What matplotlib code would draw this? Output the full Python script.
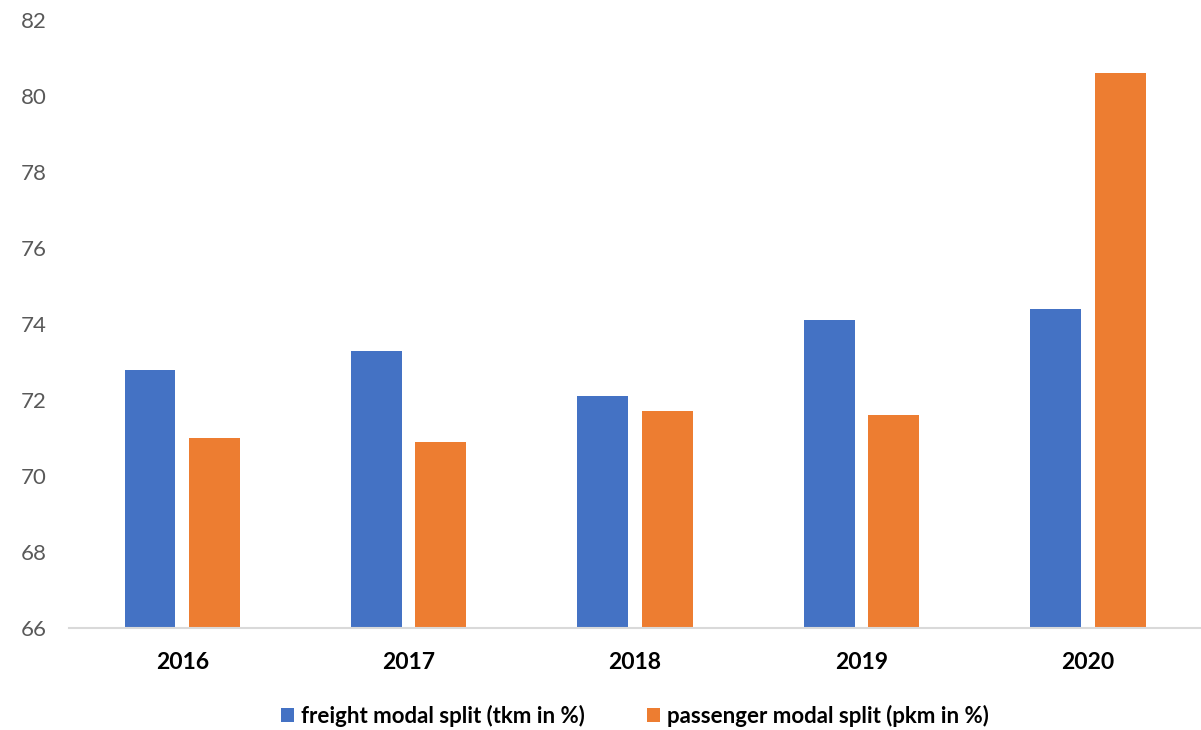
import matplotlib.pyplot as plt
import numpy as np

# data
years = ["2016", "2017", "2018", "2019", "2020"]
freight = [72.8, 73.3, 72.1, 74.1, 74.4]
passenger = [71.0, 70.9, 71.7, 71.6, 80.6]

plt.rcParams["font.family"] = ["Lato", "DejaVu Sans"]

fig = plt.figure(figsize=(12.01, 7.30), dpi=100)
ax = fig.add_axes([0.0575, 0.1397, 0.9425, 0.8329])

x = np.arange(len(years))
width = 0.225
ax.bar(x - 0.1425, freight, width, color="#4472C4", label="freight modal split (tkm in %)")
ax.bar(x + 0.1425, passenger, width, color="#ED7D31", label="passenger modal split (pkm in %)")

ax.set_ylim(66, 82)
ax.set_xlim(-0.5, 4.5)
ax.set_yticks(range(66, 83, 2))
ax.set_xticks(x)
ax.set_xticklabels(years, fontsize=16.5, fontweight="bold", color="black")

for side in ["top", "right", "left"]:
    ax.spines[side].set_visible(False)
ax.spines["bottom"].set_color("#D9D9D9")
ax.spines["bottom"].set_linewidth(1.5)
ax.tick_params(axis="y", length=0, labelsize=16, labelcolor="#595959", pad=16)
ax.tick_params(axis="x", length=0, pad=17)

ax.legend(loc="center", bbox_to_anchor=(0.5, -0.145), ncol=2, frameon=False,
          prop={"size": 16, "weight": "bold"}, handlelength=0.6, handleheight=0.6,
          handletextpad=0.3, columnspacing=2.8)

fig.savefig("out.png", dpi=100)
